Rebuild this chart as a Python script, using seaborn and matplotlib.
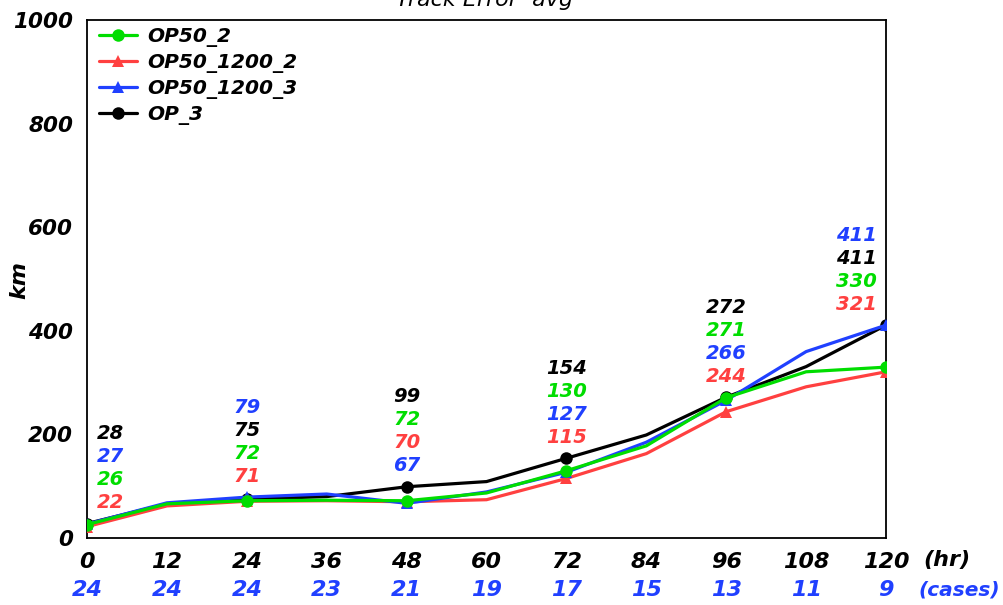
import matplotlib
matplotlib.use("Agg")
import matplotlib.pyplot as plt
import matplotlib.transforms as mtransforms
import seaborn as sns
import numpy as np

hours = [0, 12, 24, 36, 48, 60, 72, 84, 96, 108, 120]
cases = [24, 24, 24, 23, 21, 19, 17, 15, 13, 11, 9]
op50_2 = [26, 66, 72, 73, 72, 87, 130, 178, 271, 321, 330]
op50_1200_2 = [22, 62, 71, 72, 70, 74, 115, 163, 244, 292, 321]
op50_1200_3 = [27, 68, 79, 85, 67, 89, 127, 185, 266, 360, 411]
op_3 = [28, 66, 75, 80, 99, 109, 154, 199, 272, 331, 411]
names = ["OP50_2", "OP50_1200_2", "OP50_1200_3", "OP_3"]
colors = ["#00dd00", "#ff4040", "#2040ff", "#000000"]
markers = ["o", "^", "^", "o"]
yticks = [0, 200, 400, 600, 800, 1000]

sns.set_style("white")
plt.rcParams["font.family"] = ["DejaVu Sans"]
plt.rcParams["text.color"] = "black"
plt.rcParams["xtick.color"] = "black"
plt.rcParams["ytick.color"] = "black"
plt.rcParams["axes.labelcolor"] = "black"

FS = dict(fontstyle="italic", fontweight="bold")

fig = plt.figure(figsize=(10.04, 6.05), dpi=100)
ax = fig.add_axes([0.0867, 0.1107, 0.7958, 0.856])

series = [op50_2, op50_1200_2, op50_1200_3, op_3]
zorders = [5, 3, 4, 2]
for vals, name, c, m, z in zip(series, names, colors, markers, zorders):
    sns.lineplot(x=hours, y=vals, color=c, marker=m, markevery=2, markersize=9,
                 markeredgewidth=0, linewidth=2.3, label=name, ax=ax, zorder=z)

ax.set_xlim(0, 120)
ax.set_ylim(0, 1000)
ax.set_xticks(hours)
ax.set_xticklabels([str(h) for h in hours], fontsize=16, color="black", **FS)
ax.set_yticks(yticks)
ax.set_yticklabels([str(v) for v in yticks], fontsize=15.5, color="black", **FS)
ax.tick_params(axis="both", direction="out", length=6, width=1.3, color="black", pad=4)
for s in ax.spines.values():
    s.set_color("black")
    s.set_linewidth(1.3)
ax.set_xlabel("")
ax.set_ylabel("")
fig.text(19 / 1004, 1 - 280 / 605, "km", rotation=90, ha="center", va="center",
         fontsize=16, color="black", **FS)

leg = ax.legend(loc="upper left", frameon=False, fontsize=14.5, handlelength=1.9,
                handletextpad=0.5, borderaxespad=0.2, labelspacing=0.3,
                bbox_to_anchor=(0.0, 1.01))
for t in leg.get_texts():
    t.set_fontstyle("italic")
    t.set_fontweight("bold")
    t.set_color("black")

# stacked value annotations
label_hours = [0, 24, 48, 72, 96, 120]
for h in label_hours:
    i = hours.index(h)
    vals = [(s[i], c) for s, c in zip(series, colors)]
    order = [2, 3, 0, 1]
    vals_sorted = sorted([vals[k] for k in order], key=lambda t: -t[0])
    vmax = vals_sorted[0][0]
    dx = 23 if h == 0 else (-30 if h == 120 else 0)
    for j, (v, c) in enumerate(vals_sorted):
        ax.annotate(str(v), xy=(h, vmax), xytext=(dx, 90 - 23 * j),
                    textcoords="offset pixels", ha="center", va="center",
                    color=c, fontsize=14, annotation_clip=False, **FS)

trans = mtransforms.blended_transform_factory(ax.transData, fig.transFigure)
for h, n in zip(hours, cases):
    ax.text(h, 1 - 590 / 605, str(n), transform=trans, ha="center", va="center",
            color="#2040ff", fontsize=16, **FS)
fig.text(923 / 1004, 1 - 560 / 605, "(hr)", ha="left", va="center", fontsize=16,
         color="black", **FS)
fig.text(918 / 1004, 1 - 590 / 605, "(cases)", ha="left", va="center", fontsize=14.5,
         color="#2040ff", **FS)
fig.text(485 / 1004, 1 - 6 / 605, "Track Error  avg", ha="center", va="baseline",
         fontsize=16, fontstyle="italic", color="black")

fig.savefig("out.png", dpi=100)
